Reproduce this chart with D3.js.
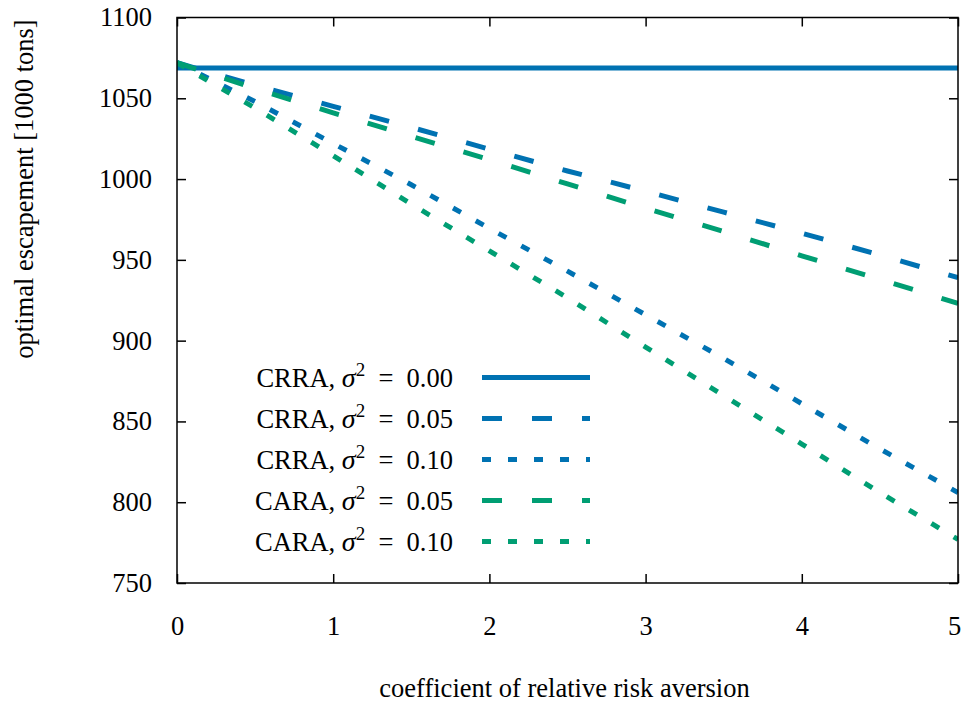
<!DOCTYPE html>
<html>
<head>
<meta charset="utf-8">
<script src="https://cdn.jsdelivr.net/npm/d3@7"></script>
<style>
  body { margin: 0; background: #fff; }
  text { font-family: "Liberation Serif", "DejaVu Serif", serif; fill: #000; }
</style>
</head>
<body>
<div id="chart"></div>
<script>
// x values (coefficient of relative risk aversion)
let rra = [0, 0.5, 1, 1.5, 2, 2.5, 3, 3.5, 4, 4.5, 5];

// optimal escapement [1000 tons]
let crra_000 = [1068.8, 1068.8, 1068.8, 1068.8, 1068.8, 1068.8, 1068.8, 1068.8, 1068.8, 1068.8, 1068.8];
let crra_005 = [1072, 1058, 1045, 1032, 1018.5, 1005, 992.5, 979.5, 966.5, 953, 939];
let crra_010 = [1072, 1048, 1022, 996.5, 969.5, 943, 916, 889, 861, 833, 806];
let cara_005 = [1072, 1056, 1041, 1026.5, 1012, 997, 982, 967.5, 952.5, 938, 923];
let cara_010 = [1072, 1044, 1014.5, 984.5, 955.5, 926.5, 896, 866, 836, 806, 777];

let x_ticks = [0, 1, 2, 3, 4, 5];
let y_ticks = [750, 800, 850, 900, 950, 1000, 1050, 1100];

let series = [
    { name: "CRRA", sigma: "0.00", values: crra_000, color: "#0072b2", dash: null },
    { name: "CRRA", sigma: "0.05", values: crra_005, color: "#0072b2", dash: "20,30" },
    { name: "CRRA", sigma: "0.10", values: crra_010, color: "#0072b2", dash: "9,17" },
    { name: "CARA", sigma: "0.05", values: cara_005, color: "#009e73", dash: "20,30" },
    { name: "CARA", sigma: "0.10", values: cara_010, color: "#009e73", dash: "9,17" }
];

let font_size = 26.5;

let svg_width = 962, svg_height = 702;
let margin = { top: 17.5, right: 4, bottom: 119, left: 177 },
    width = svg_width - margin.left - margin.right,
    height = svg_height - margin.top - margin.bottom;

let root = d3.select("#chart")
    .append("svg")
        .attr("width", svg_width)
        .attr("height", svg_height);

let svg = root.append("g")
    .attr("transform", "translate(" + margin.left + "," + margin.top + ")");

// Scales.
let x_scale = d3.scaleLinear().domain([0, 5]).range([0, width]);
let y_scale = d3.scaleLinear().domain([750, 1100]).range([height, 0]);

svg.append("clipPath")
    .attr("id", "clip")
    .append("rect")
        .attr("width", width)
        .attr("height", height);

// Data lines.
let line = d3.line()
    .x((d, i) => x_scale(rra[i]))
    .y(d => y_scale(d));

let lines = svg.append("g").attr("clip-path", "url(#clip)");
series.forEach(function(s) {
    lines.append("path")
        .datum(s.values)
        .attr("fill", "none")
        .attr("stroke", s.color)
        .attr("stroke-width", 5)
        .attr("stroke-dasharray", s.dash)
        .attr("d", line);
});

// Axes with inward ticks, mirrored on top and right.
let tick_len = 9;
function style_axis(g) {
    g.select(".domain").remove();
    g.selectAll(".tick line").attr("stroke", "#000").attr("stroke-width", 1.5);
    g.selectAll(".tick text")
        .style("font-family", "Liberation Serif, serif")
        .style("font-size", font_size + "px");
}

svg.append("g")
    .attr("class", "x_axis")
    .attr("transform", "translate(0," + height + ")")
    .call(d3.axisBottom(x_scale).tickValues(x_ticks).tickSizeInner(-tick_len).tickSizeOuter(0)
        .tickPadding(33).tickFormat(d3.format("d")))
    .call(style_axis);

// keep the last label inside the window
svg.selectAll(".x_axis .tick text")
    .filter(d => d === 5)
    .attr("dx", -4);

svg.append("g")
    .attr("class", "x_axis_top")
    .call(d3.axisTop(x_scale).tickValues(x_ticks).tickSizeInner(-tick_len).tickSizeOuter(0).tickFormat(""))
    .call(style_axis);

svg.append("g")
    .attr("class", "y_axis")
    .call(d3.axisLeft(y_scale).tickValues(y_ticks).tickSizeInner(-tick_len).tickSizeOuter(0)
        .tickPadding(25).tickFormat(d3.format("d")))
    .call(style_axis);

svg.append("g")
    .attr("class", "y_axis_right")
    .attr("transform", "translate(" + width + ",0)")
    .call(d3.axisRight(y_scale).tickValues(y_ticks).tickSizeInner(-tick_len).tickSizeOuter(0).tickFormat(""))
    .call(style_axis);

// Frame.
svg.append("rect")
    .attr("width", width)
    .attr("height", height)
    .attr("fill", "none")
    .attr("stroke", "#000")
    .attr("stroke-width", 1.5);

// Axis labels.
root.append("text")
    .attr("x", margin.left + width / 2 - 3)
    .attr("y", 697)
    .style("text-anchor", "middle")
    .style("font-size", font_size + "px")
    .text("coefficient of relative risk aversion");

root.append("text")
    .attr("transform", "translate(33,189) rotate(-90)")
    .style("text-anchor", "middle")
    .style("font-size", font_size + "px")
    .text("optimal escapement [1000 tons]");

// Legend.
let legend = svg.append("g")
    .attr("transform", "translate(" + (453 - margin.left) + "," + (377.5 - margin.top) + ")");
series.forEach(function(s, i) {
    let row = legend.append("g").attr("transform", "translate(0," + (i * 41) + ")");
    let t = row.append("text")
        .attr("x", 0)
        .attr("y", 9)
        .style("text-anchor", "end")
        .style("font-size", font_size + "px");
    t.append("tspan").text(s.name + ", ");
    t.append("tspan").style("font-style", "italic").style("font-size", "28px").text("\u03c3");
    t.append("tspan").attr("dy", -11).style("font-size", "19px").text("2");
    t.append("tspan").attr("dy", 11).text("\u2002=\u2002" + s.sigma);
    row.append("line")
        .attr("x1", 29)
        .attr("x2", 137)
        .attr("stroke", s.color)
        .attr("stroke-width", 5)
        .attr("stroke-dasharray", s.dash);
});
</script>
</body>
</html>
